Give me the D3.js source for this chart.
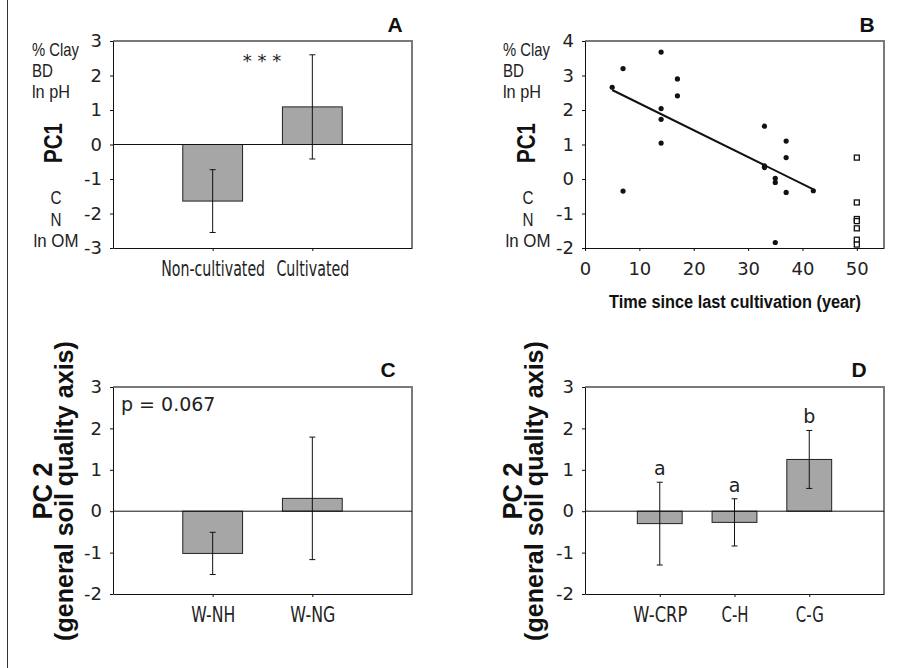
<!DOCTYPE html>
<html>
<head>
<meta charset="utf-8">
<title>PC1 / PC2 soil quality panels</title>
<style>
  body { margin: 0; background: #fff; }
  svg { display: block; }
  .tick text, .num { font-family: 'DejaVu Sans', sans-serif; font-size: 18px; fill: #222; }
  .cond { font-family: 'Liberation Sans', Arial, sans-serif; fill: #222; }
  .bold { font-family: 'Liberation Sans', Arial, sans-serif; font-weight: bold; fill: #111; }
  .domain, .tick line { stroke: #111; }
</style>
<script src="https://cdn.jsdelivr.net/npm/d3@7"></script>
</head>
<body>
<div id="chart"></div>
<script>
// --- panel A: PC1 by cultivation
var catA = ['Non-cultivated', 'Cultivated'];
var pc1Mean = [-1.64, 1.09];
var pc1Err = [0.91, 1.51];
var ticksA = [-3, -2, -1, 0, 1, 2, 3];

// --- panel B: PC1 vs time since last cultivation
var yearsCult = [5, 7, 7, 14, 14, 14, 14, 17, 17, 33, 33, 33, 35, 35, 35, 37, 37, 37, 42];
var pc1Cult = [2.66, 3.2, -0.35, 3.68, 2.04, 1.73, 1.04, 2.9, 2.41, 1.53, 0.38, 0.33, 0.02, -0.1, -1.84, 1.1, 0.62, -0.39, -0.34];
var yearsNative = [50, 50, 50, 50, 50, 50, 50];
var pc1Native = [0.62, -0.68, -1.16, -1.22, -1.43, -1.76, -1.9];
var trendYears = [5, 42];
var trendPC1 = [2.58, -0.30];
var ticksBx = [0, 10, 20, 30, 40, 50];
var ticksBy = [-2, -1, 0, 1, 2, 3, 4];

// --- panel C: PC2 wheat systems
var catC = ['W-NH', 'W-NG'];
var pc2MeanC = [-1.02, 0.31];
var pc2ErrC = [0.51, 1.48];

// --- panel D: PC2 other systems
var catD = ['W-CRP', 'C-H', 'C-G'];
var pc2MeanD = [-0.30, -0.27, 1.25];
var pc2ErrD = [1.0, 0.57, 0.70];
var lettersD = ['a', 'a', 'b'];
var ticksCD = [-2, -1, 0, 1, 2, 3];

var svg = d3.select('#chart').append('svg')
    .attr('width', 916)
    .attr('height', 668);

// left edge rule of the figure
svg.append('line')
    .attr('x1', 7.5).attr('x2', 7.5)
    .attr('y1', 0).attr('y2', 668)
    .style('stroke', '#333')
    .style('stroke-width', 1);

// plain hyphen minus, no decimals
var intFmt = function(d) { return String(d); };

// squeeze a text horizontally to a target width (condensed look)
function squeeze(t, pre, len) {
  var w = t.node().getComputedTextLength();
  var s = len ? len / w : 1;
  t.attr('x', 0).attr('y', 0)
      .attr('transform', pre + ' scale(' + s + ',1)');
  return t;
}

function txt(parent, s, x, y, cls, size, anchor, len, rot) {
  var t = parent.append('text')
      .attr('class', cls)
      .attr('text-anchor', anchor || 'start')
      .style('font-size', size + 'px')
      .text(s);
  return squeeze(t, 'translate(' + x + ',' + y + ')' + (rot ? ' rotate(-90)' : ''), len);
}

function frame(g, p) {
  g.append('path')
      .attr('d', 'M' + p.x0 + ',' + p.y0 + 'H' + p.x1 + 'V' + p.y1)
      .style('fill', 'none')
      .style('stroke', '#7a7a7a')
      .style('stroke-width', 2);
}

function yAxis(g, p, y, ticks) {
  g.append('g')
      .attr('transform', 'translate(' + p.x0 + ',0)')
      .call(d3.axisLeft(y).tickValues(ticks).tickFormat(intFmt)
        .tickSize(3).tickPadding(8).tickSizeOuter(0));
}

function barPanel(p, cats, means, errs, ticks, labelLens) {
  var g = svg.append('g');
  var x = d3.scalePoint().domain(cats).range([p.x0, p.x1]).padding(1);
  var y = d3.scaleLinear().domain([ticks[0], ticks[ticks.length - 1]]).range([p.y1, p.y0]);
  var bw = x.step() * 0.6;

  frame(g, p);

  g.selectAll('rect.bar')
      .data(cats)
    .enter().append('rect')
      .attr('class', 'bar')
      .attr('x', function(d) { return x(d) - bw / 2; })
      .attr('y', function(d, i) { return y(Math.max(0, means[i])); })
      .attr('width', bw)
      .attr('height', function(d, i) { return Math.abs(y(means[i]) - y(0)); })
      .style('fill', '#a6a6a6')
      .style('stroke', '#222')
      .style('stroke-width', 1);

  g.append('line')
      .attr('x1', p.x0).attr('x2', p.x1)
      .attr('y1', y(0)).attr('y2', y(0))
      .style('stroke', '#111');

  var eb = g.selectAll('g.err')
      .data(cats)
    .enter().append('g')
      .attr('class', 'err')
      .style('stroke', '#111');
  eb.append('line')
      .attr('x1', function(d) { return x(d); })
      .attr('x2', function(d) { return x(d); })
      .attr('y1', function(d, i) { return y(means[i] + errs[i]); })
      .attr('y2', function(d, i) { return y(means[i] - errs[i]); });
  [1, -1].forEach(function(s) {
    eb.append('line')
        .attr('x1', function(d) { return x(d) - 3; })
        .attr('x2', function(d) { return x(d) + 3; })
        .attr('y1', function(d, i) { return y(means[i] + s * errs[i]); })
        .attr('y2', function(d, i) { return y(means[i] + s * errs[i]); });
  });

  yAxis(g, p, y, ticks);

  var xa = g.append('g')
      .attr('transform', 'translate(0,' + p.y1 + ')')
      .call(d3.axisBottom(x).tickSize(3).tickSizeOuter(0));
  xa.selectAll('.tick text')
      .attr('class', 'cond')
      .attr('dy', null)
      .style('font-size', '20.5px')
      .each(function(d, i) { squeeze(d3.select(this), 'translate(0,28)', labelLens[i]); });

  return { g: g, x: x, y: y };
}

// ---------- A ----------
var pA = { x0: 113, x1: 412, y0: 41, y1: 248 };
var a = barPanel(pA, catA, pc1Mean, pc1Err, ticksA, [104, 73]);
txt(a.g, '* * *', 262, 67, 'num', 18, 'middle');
txt(a.g, 'A', 395, 32, 'bold', 21, 'middle');

function pcAnnot(g, left, mid, title) {
  txt(g, '% Clay', left, 56, 'cond', 18, 'start', 47);
  txt(g, 'BD', left, 77, 'cond', 18, 'start', 21);
  txt(g, 'ln pH', left, 98, 'cond', 18, 'start', 38);
  txt(g, 'C', mid, 204, 'cond', 18, 'middle', 11);
  txt(g, 'N', mid, 225.5, 'cond', 18, 'middle', 11);
  txt(g, 'ln OM', mid, 246.5, 'cond', 18, 'middle', 45);
  txt(g, 'PC1', title, 143, 'bold', 26, 'middle', 40, true);
}
pcAnnot(a.g, 32, 56, 62);

// ---------- B ----------
var pB = { x0: 585, x1: 884, y0: 41, y1: 248 };
var gB = svg.append('g');
var xB = d3.scaleLinear().domain([0, 55]).range([pB.x0, pB.x1]);
var yB = d3.scaleLinear().domain([-2, 4]).range([pB.y1, pB.y0]);
frame(gB, pB);

gB.append('path')
    .datum(d3.zip(trendYears, trendPC1))
    .attr('d', d3.line().x(function(d) { return xB(d[0]); }).y(function(d) { return yB(d[1]); }))
    .style('fill', 'none')
    .style('stroke', '#111')
    .style('stroke-width', 2);

gB.selectAll('circle')
    .data(d3.zip(yearsCult, pc1Cult))
  .enter().append('circle')
    .attr('cx', function(d) { return xB(d[0]); })
    .attr('cy', function(d) { return yB(d[1]); })
    .attr('r', 2.6)
    .style('fill', '#111');

gB.selectAll('rect.nat')
    .data(d3.zip(yearsNative, pc1Native))
  .enter().append('rect')
    .attr('class', 'nat')
    .attr('x', function(d) { return xB(d[0]) - 2.5; })
    .attr('y', function(d) { return yB(d[1]) - 2.5; })
    .attr('width', 5)
    .attr('height', 5)
    .style('fill', '#fff')
    .style('stroke', '#111')
    .style('stroke-width', 1.3);

yAxis(gB, pB, yB, ticksBy);
var xaB = gB.append('g')
    .attr('transform', 'translate(0,' + pB.y1 + ')')
    .call(d3.axisBottom(xB).tickValues(ticksBx).tickFormat(intFmt).tickSize(3).tickSizeOuter(0));
xaB.selectAll('.tick text').attr('dy', null).attr('y', 27);

txt(gB, 'Time since last cultivation (year)', 735, 308, 'bold', 18, 'middle', 252);
txt(gB, 'B', 867, 32, 'bold', 21, 'middle');
pcAnnot(gB, 503, 528, 535);

// ---------- C ----------
var pC = { x0: 113, x1: 412, y0: 387, y1: 594 };
var c = barPanel(pC, catC, pc2MeanC, pc2ErrC, ticksCD, [44, 45]);
txt(c.g, 'p = 0.067', 121, 411, 'num', 19, 'start');
txt(c.g, 'C', 388, 377, 'bold', 21, 'middle');

function pc2Title(g, x1, x2) {
  txt(g, 'PC 2', x1, 491, 'bold', 27, 'middle', 57, true);
  txt(g, '(general soil quality axis)', x2, 491, 'bold', 26, 'middle', 300, true);
}
pc2Title(c.g, 51.5, 73);

// ---------- D ----------
var pD = { x0: 585, x1: 884, y0: 387, y1: 594 };
var dd = barPanel(pD, catD, pc2MeanD, pc2ErrD, ticksCD, [54, 27, 28]);
dd.g.selectAll('text.sig')
    .data(catD)
  .enter().append('text')
    .attr('class', 'num sig')
    .attr('text-anchor', 'middle')
    .attr('x', function(d) { return dd.x(d); })
    .attr('y', function(d, i) { return dd.y(pc2MeanD[i] + pc2ErrD[i]) - 7; })
    .style('font-size', '19px')
    .text(function(d, i) { return lettersD[i]; });
txt(dd.g, 'D', 859, 377, 'bold', 21, 'middle');
pc2Title(dd.g, 522, 543);
</script>
</body>
</html>
